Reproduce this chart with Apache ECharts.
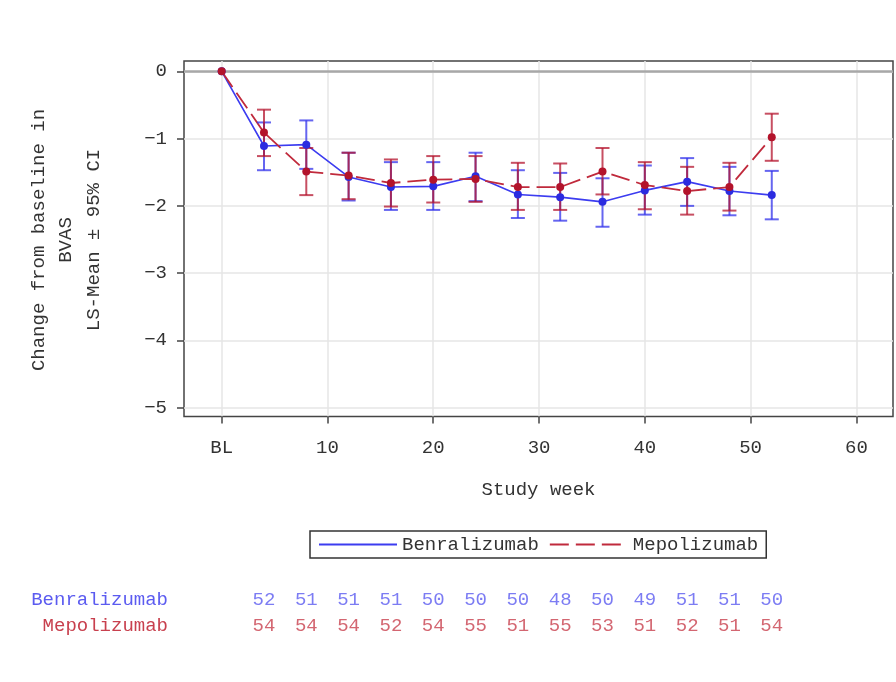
<!DOCTYPE html>
<html lang="en">
<head>
    <meta charset="UTF-8">
    <title>BVAS change from baseline</title>
    <script src="https://cdn.jsdelivr.net/npm/echarts@6.0.0/dist/echarts.min.js"></script>
    <style>
        html, body { margin: 0; padding: 0; background: #fff; }
        #chart { width: 896px; height: 682px; }
    </style>
</head>
<body>
    <div id="chart"></div>

    <script>
        // study weeks (0 = baseline)
        const weeks = [0, 4, 8, 12, 16, 20, 24, 28, 32, 36, 40, 44, 48, 52];
        const xTicks = [0, 10, 20, 30, 40, 50, 60];
        const yTicks = [-5, -4, -3, -2, -1, 0];

        // LS-mean and 95% CI
        const benMean = [0, -1.11, -1.09, -1.57, -1.72, -1.71, -1.56, -1.83, -1.87, -1.94, -1.77, -1.64, -1.78, -1.84];
        const benLow  = [0, -1.47, -1.45, -1.92, -2.06, -2.06, -1.93, -2.18, -2.22, -2.31, -2.13, -2.00, -2.14, -2.20];
        const benHigh = [0, -0.76, -0.73, -1.21, -1.35, -1.35, -1.21, -1.47, -1.51, -1.59, -1.40, -1.29, -1.42, -1.48];
        const mepMean = [0, -0.91, -1.49, -1.55, -1.66, -1.61, -1.60, -1.72, -1.72, -1.49, -1.69, -1.78, -1.72, -0.98];
        const mepLow  = [0, -1.26, -1.84, -1.90, -2.01, -1.95, -1.94, -2.06, -2.06, -1.83, -2.05, -2.13, -2.07, -1.33];
        const mepHigh = [0, -0.57, -1.14, -1.21, -1.31, -1.26, -1.26, -1.36, -1.37, -1.14, -1.35, -1.42, -1.36, -0.63];

        // patients at each visit (weeks 4..52)
        const nWeeks = [4, 8, 12, 16, 20, 24, 28, 32, 36, 40, 44, 48, 52];
        const benN = [52, 51, 51, 51, 50, 50, 50, 48, 50, 49, 51, 51, 50];
        const mepN = [54, 54, 54, 52, 54, 55, 51, 55, 53, 51, 52, 51, 54];

        const FONT = '"Liberation Mono", "DejaVu Sans Mono", monospace';
        const BLUE = '#2b2be0';
        const RED = '#b3132b';

        function pairs(ys) {
            return weeks.map((w, i) => [w, ys[i]]);
        }

        function ciData(low, high) {
            return weeks.map((w, i) => [w, low[i], high[i]]);
        }

        // vertical CI bar with caps
        function errorBars(color) {
            return function (params, api) {
                const lo = api.value(1), hi = api.value(2);
                if (lo === hi) return null;
                const p1 = api.coord([api.value(0), hi]);
                const p2 = api.coord([api.value(0), lo]);
                const hw = 7;
                const style = { stroke: color, lineWidth: 2, fill: null };
                return {
                    type: 'group',
                    children: [
                        { type: 'line', shape: { x1: p1[0], y1: p1[1], x2: p2[0], y2: p2[1] }, style: style },
                        { type: 'line', shape: { x1: p1[0] - hw, y1: p1[1], x2: p1[0] + hw, y2: p1[1] }, style: style },
                        { type: 'line', shape: { x1: p2[0] - hw, y1: p2[1], x2: p2[0] + hw, y2: p2[1] }, style: style }
                    ]
                };
            };
        }

        const chart = echarts.init(document.getElementById('chart'));

        const option = {
            animation: false,
            textStyle: { fontFamily: FONT },
            grid: [
                { left: 184, right: 3, top: 61, bottom: 265.5, show: true, borderColor: '#444', borderWidth: 1.5, backgroundColor: '#fff' },
                { left: 184, right: 3, top: 587, height: 52 }
            ],
            legend: {
                data: ['Benralizumab', 'Mepolizumab'],
                left: 310,
                top: 531,
                orient: 'horizontal',
                itemWidth: 78,
                itemHeight: 14,
                itemGap: 10,
                padding: [4, 8, 4, 8],
                borderColor: '#333',
                borderWidth: 1.5,
                itemStyle: { opacity: 0 },
                textStyle: { fontFamily: FONT, fontSize: 19, color: '#333' }
            },
            xAxis: [
                {
                    type: 'value', gridIndex: 0, min: -3.56, max: 63.46,
                    name: 'Study week', nameLocation: 'middle', nameGap: 64,
                    nameTextStyle: { fontFamily: FONT, fontSize: 19, color: '#333' },
                    axisLine: { show: false, onZero: false },
                    axisTick: { show: true, inside: false, length: 7, customValues: xTicks, lineStyle: { color: '#444', width: 1.5 } },
                    axisLabel: {
                        customValues: xTicks, margin: 22, fontFamily: FONT, fontSize: 19, color: '#333',
                        formatter: v => v === 0 ? 'BL' : String(v)
                    },
                    splitLine: { show: true, lineStyle: { color: '#e6e6e6', width: 1.5 } }
                },
                {
                    type: 'value', gridIndex: 1, min: -3.56, max: 63.46,
                    axisLine: { show: false, onZero: false }, axisTick: { show: false }, axisLabel: { show: false }, splitLine: { show: false }
                }
            ],
            yAxis: [
                {
                    type: 'value', gridIndex: 0, min: -5.13, max: 0.153,
                    axisLine: { show: false, onZero: false },
                    axisTick: { show: true, length: 7, customValues: yTicks, lineStyle: { color: '#444', width: 1.5 } },
                    axisLabel: {
                        customValues: yTicks, margin: 17, fontFamily: FONT, fontSize: 19, color: '#333',
                        formatter: v => v < 0 ? '\u2212' + Math.abs(v) : String(v)
                    },
                    splitLine: { show: true, lineStyle: { color: '#e6e6e6', width: 1.5 } }
                },
                {
                    type: 'category', gridIndex: 1, inverse: true,
                    data: ['Benralizumab', 'Mepolizumab'],
                    axisLine: { show: false, onZero: false }, axisTick: { show: false }, splitLine: { show: false },
                    axisLabel: {
                        margin: 16, fontFamily: FONT, fontSize: 19,
                        formatter: v => v === 'Benralizumab' ? '{b|' + v + '}' : '{m|' + v + '}',
                        rich: {
                            b: { color: '#5b5bf0', fontFamily: FONT, fontSize: 19 },
                            m: { color: '#c8404e', fontFamily: FONT, fontSize: 19 }
                        }
                    }
                }
            ],
            graphic: [
                {
                    type: 'text',
                    x: 66, y: 240,
                    rotation: Math.PI / 2,
                    style: {
                        text: 'Change from baseline in\nBVAS\nLS-Mean \u00b1 95% CI',
                        fontFamily: FONT, fontSize: 19, fill: '#333',
                        align: 'center', verticalAlign: 'middle', lineHeight: 27.5
                    }
                }
            ],
            series: [
                {
                    name: 'ref', type: 'line', data: [], xAxisIndex: 0, yAxisIndex: 0, z: 1,
                    markLine: {
                        silent: true, symbol: 'none', label: { show: false },
                        lineStyle: { color: '#a8a8a8', width: 2.5, type: 'solid' },
                        data: [{ yAxis: 0 }]
                    }
                },
                {
                    name: 'Benralizumab', type: 'line', data: pairs(benMean), symbol: 'none',
                    lineStyle: { color: '#3c3cf0', width: 1.6 }, itemStyle: { color: '#3c3cf0' }, z: 3
                },
                {
                    name: 'Mepolizumab', type: 'line', data: pairs(mepMean), symbol: 'none',
                    lineStyle: { color: '#c02a3c', width: 1.8, type: [19, 7] }, itemStyle: { color: '#c02a3c' }, z: 3
                },
                {
                    name: 'benCI', type: 'custom', data: ciData(benLow, benHigh),
                    renderItem: errorBars('rgba(50,50,235,0.75)'), encode: { x: 0, y: [1, 2] }, z: 4
                },
                {
                    name: 'mepCI', type: 'custom', data: ciData(mepLow, mepHigh),
                    renderItem: errorBars('rgba(180,20,45,0.75)'), encode: { x: 0, y: [1, 2] }, z: 4
                },
                {
                    name: 'benPts', type: 'scatter', data: pairs(benMean), symbolSize: 8,
                    itemStyle: { color: BLUE, opacity: 1 }, z: 5
                },
                {
                    name: 'mepPts', type: 'scatter', data: pairs(mepMean), symbolSize: 8,
                    itemStyle: { color: RED, opacity: 1 }, z: 6
                },
                {
                    name: 'benCount', type: 'scatter', xAxisIndex: 1, yAxisIndex: 1, symbolSize: 0,
                    data: nWeeks.map((w, i) => [w, 'Benralizumab', benN[i]]),
                    label: { show: true, position: 'inside', formatter: p => p.value[2], color: '#5b5bf0', fontFamily: FONT, fontSize: 19 }
                },
                {
                    name: 'mepCount', type: 'scatter', xAxisIndex: 1, yAxisIndex: 1, symbolSize: 0,
                    data: nWeeks.map((w, i) => [w, 'Mepolizumab', mepN[i]]),
                    label: { show: true, position: 'inside', formatter: p => p.value[2], color: '#c8404e', fontFamily: FONT, fontSize: 19 }
                }
            ]
        };

        chart.setOption(option);
    </script>
</body>
</html>
